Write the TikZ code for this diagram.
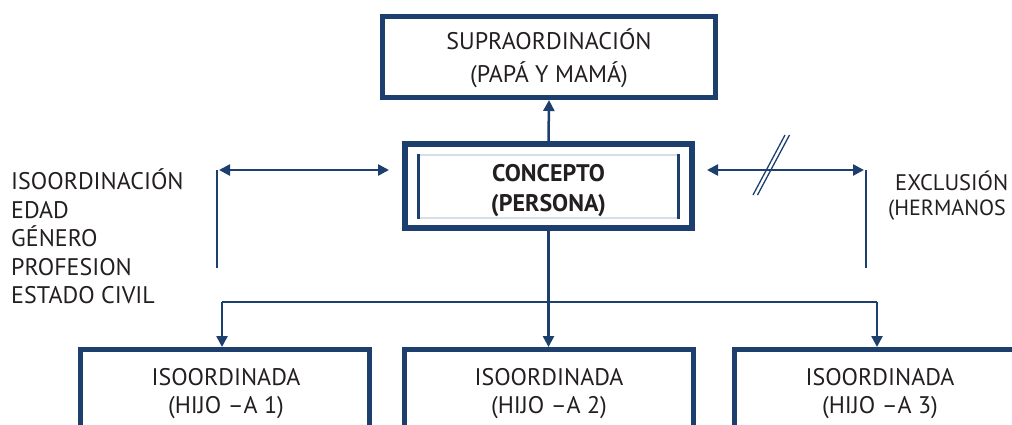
\documentclass[tikz,border=0pt]{standalone}
\usepackage{fontspec}
\setmainfont{PT Sans}
\usetikzlibrary{arrows.meta}
\definecolor{dblue}{RGB}{28,63,110}
\definecolor{ltline}{RGB}{214,223,233}
\definecolor{txt}{RGB}{35,31,32}
\tikzset{
  box/.style={draw=dblue, line width=5pt, rectangle, inner sep=0pt},
  lbl/.style={text=txt, font=\fontsize{24}{28}\selectfont, align=center, inner sep=0pt},
  lst/.style={text=txt, font=\fontsize{24}{28.6}\selectfont, align=left, inner sep=0pt},
  conn/.style={draw=dblue, line width=2.5pt},
  tip/.style={-{Triangle[length=11pt,width=11pt]}},
  dtip/.style={{Triangle[length=11pt,width=11pt]}-{Triangle[length=11pt,width=11pt]}},
}
\begin{document}
\begin{tikzpicture}[x=1pt,y=-1pt]
\useasboundingbox (0,0) rectangle (1012,424);
% top box
\node[box, minimum width=333pt, minimum height=81pt] (sup) at (549,57) {};
\node[lbl, font=\fontsize{24}{32.5}\selectfont] (suptxt) at (549,58) {SUPRAORDINACIÓN\\(PAPÁ Y MAMÁ)};
% concept box
\node[box, line width=6pt, minimum width=287pt, minimum height=84pt] (con) at (548.5,186) {};
\draw[ltline, line width=2pt] (418,155) -- (679,155) (418,218) -- (679,218);
\draw[dblue, line width=3pt] (418.5,154) -- (418.5,219) (678,154) -- (678,219);
\node[lbl, font=\bfseries\fontsize{24}{30}\selectfont] (contxt) at (548.5,190.5) {CONCEPTO\\(PERSONA)};
% up arrow
\draw[conn, tip] (con.north) -- (sup.south);
% left side
\coordinate (lv1) at (217,170);
\coordinate (lv2) at (217,268);
\draw[dblue, line width=2pt] (lv1) -- (lv2);
\coordinate (la) at (219,170);
\coordinate (lb) at (389,170);
\draw[conn, dtip] (la) -- (lb);
\node[lst, anchor=north west] (iso) at (11,168.5) {ISOORDINACIÓN\\EDAD\\GÉNERO\\PROFESION\\ESTADO CIVIL};
% right side
\coordinate (rv1) at (866,170);
\coordinate (rv2) at (866,268);
\draw[dblue, line width=2pt] (rv1) -- (rv2);
\coordinate (ra) at (707,170);
\coordinate (rb) at (864,170);
\draw[conn, dtip] (ra) -- (rb);
\coordinate (s1a) at (753,195);
\coordinate (s1b) at (785,135);
\coordinate (s2a) at (757.5,195);
\coordinate (s2b) at (789.5,135);
\draw[dblue, line width=1.3pt] (s1a) -- (s1b) (s2a) -- (s2b);
\node[text=txt, font=\fontsize{22.5}{25}\selectfont, inner sep=0pt, anchor=base west] (exc) at (895,190) {EXCLUSIÓN};
\node[text=txt, font=\fontsize{22}{25}\selectfont, inner sep=0pt, anchor=base west] (her) at (888,215) {(HERMANOS};
% bottom boxes
\node[box, minimum width=289pt, minimum height=120pt] (b1) at (225,409.5) {};
\node[box, minimum width=289pt, minimum height=120pt] (b2) at (549,409.5) {};
\node[box, minimum width=300pt, minimum height=120pt] (b3) at (884.5,409.5) {};
\node[lbl] (t1) at (226,393.5) {ISOORDINADA\\(HIJO –A 1)};
\node[lbl] (t2) at (549,393.5) {ISOORDINADA\\(HIJO –A 2)};
\node[lbl] (t3) at (880,393.5) {ISOORDINADA\\(HIJO –A 3)};
% tree
\coordinate (h1) at (222,302);
\coordinate (h2) at (548.5,302);
\coordinate (h3) at (877,302);
\draw[conn] (con.south) -- (h2);
\draw[conn] (h1) -- (h3);
\draw[conn, tip] (h1) -- (h1 |- b1.north);
\draw[conn, tip] (h2) -- (h2 |- b2.north);
\draw[conn, tip] (h3) -- (h3 |- b3.north);
\end{tikzpicture}
\end{document}
